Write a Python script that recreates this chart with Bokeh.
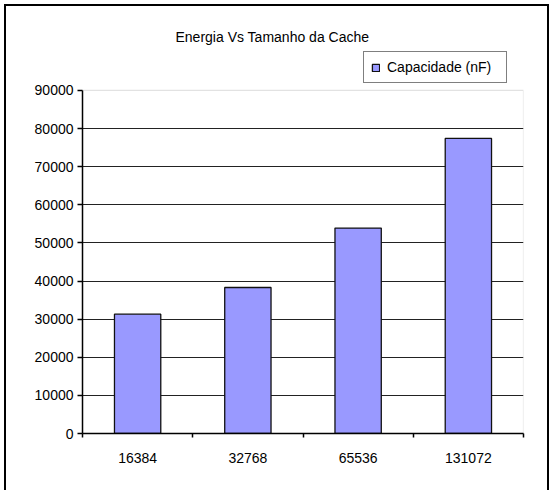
from bokeh.plotting import figure
from bokeh.models import (ColumnDataSource, FixedTicker, Legend, LegendItem,
                          Range1d, NumeralTickFormatter, BoxAnnotation)
from bokeh.embed import file_html
from bokeh.resources import INLINE

# Cache sizes and measured capacitance
cache_sizes = ["16384", "32768", "65536", "131072"]
capacidade = [31300, 38300, 53900, 77400]
y_ticks = [0, 10000, 20000, 30000, 40000, 50000, 60000, 70000, 80000, 90000]
y_max = 90000

FONT = "Liberation Sans"
FS = "14px"

xpos = [i + 0.5 for i in range(len(cache_sizes))]
src = ColumnDataSource(data=dict(x=xpos, top=capacidade, label=cache_sizes))

# The frame reaches above the value axis so the legend can sit there
p = figure(width=545, height=486, output_backend="svg", toolbar_location=None,
           x_range=Range1d(0, len(cache_sizes)), y_range=Range1d(0, 101000),
           min_border_left=76, min_border_right=28, min_border_top=42,
           min_border_bottom=59)
p.styles = {"border-left": "2px solid #000", "border-top": "2px solid #000",
            "border-right": "2px solid #000", "margin-left": "4px",
            "margin-top": "4px"}

p.title.text = "Energia Vs Tamanho da Cache"
p.title.text_font = FONT
p.title.text_font_size = FS
p.title.text_font_style = "normal"
p.title.text_color = "black"
p.title.align = "left"
p.title.offset = 93
p.title.standoff = 7

p.outline_line_color = None
p.background_fill_color = "white"
p.border_fill_color = "white"

# Plot area box (grey top/right edges)
p.add_layout(BoxAnnotation(left=0, right=len(cache_sizes), bottom=0, top=y_max,
                           fill_alpha=0, line_color="#a0a0a0", line_width=1.2,
                           level="underlay"))

# Horizontal gridlines
p.xgrid.grid_line_color = None
p.ygrid.grid_line_color = "#222222"
p.ygrid.grid_line_width = 1
p.ygrid.ticker = FixedTicker(ticks=y_ticks[1:-1])

bars = p.vbar(x="x", top="top", width=0.42, source=src, fill_color="#9999FF",
              line_color="#111111", line_width=1.3)

# X axis: labels at bar centres, tick marks on category boundaries
p.xaxis.ticker = FixedTicker(ticks=xpos,
                             minor_ticks=list(range(len(cache_sizes) + 1)))
p.xaxis.major_label_overrides = {x: lab for x, lab in zip(xpos, cache_sizes)}
p.xaxis.major_tick_in = 0
p.xaxis.major_tick_out = 0
p.xaxis.minor_tick_in = 0
p.xaxis.minor_tick_out = 4
p.xaxis.major_label_standoff = 15
p.xaxis.axis_line_color = "black"
p.xaxis.axis_line_width = 1.5
p.xaxis.minor_tick_line_color = "black"
p.xaxis.minor_tick_line_width = 1.5

p.yaxis.ticker = FixedTicker(ticks=y_ticks)
p.yaxis.bounds = (0, y_max)
p.yaxis.formatter = NumeralTickFormatter(format="0")
p.yaxis.major_tick_in = 0
p.yaxis.major_tick_out = 5
p.yaxis.minor_tick_line_color = None
p.yaxis.major_label_standoff = 4
p.yaxis.axis_line_color = "black"
p.yaxis.axis_line_width = 1.5
p.yaxis.major_tick_line_width = 1.5

for ax in (p.xaxis, p.yaxis):
    ax.major_label_text_font = FONT
    ax.major_label_text_font_size = FS
    ax.major_label_text_color = "black"

legend = Legend(items=[LegendItem(label="Capacidade (nF)", renderers=[bars])],
                location=(281, 350), orientation="vertical")
legend.label_text_font = FONT
legend.label_text_font_size = FS
legend.label_text_color = "black"
legend.glyph_width = 9
legend.glyph_height = 9
legend.border_line_color = "black"
legend.border_line_width = 1.3
legend.padding = 7
legend.margin = 0
legend.label_standoff = 7
legend.label_height = 14
legend.label_width = 112
legend.background_fill_alpha = 1
p.add_layout(legend, "center")

open("out.html", "w").write(file_html(p, INLINE))
